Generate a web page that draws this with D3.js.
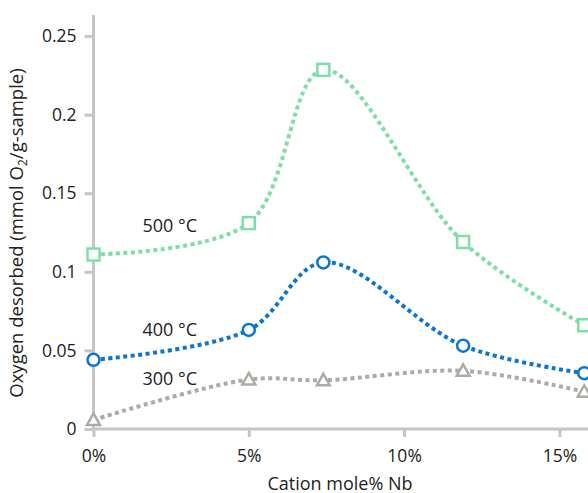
<!DOCTYPE html>
<html>
<head>
<meta charset="utf-8">
<script src="https://cdn.jsdelivr.net/npm/d3@7/dist/d3.min.js"></script>
<style>
  body { margin: 0; background: white; }
  svg { font-family: 'Open Sans', 'Noto Sans', sans-serif; }
</style>
</head>
<body>
<svg id="chart" width="588" height="493"></svg>
<script>
const nbPercent = [0, 5, 7.4, 11.9, 15.8];
const temp500 = [0.111, 0.131, 0.2285, 0.119, 0.066];
const temp400 = [0.044, 0.063, 0.106, 0.053, 0.0355];
const temp300 = [0.0058, 0.0315, 0.031, 0.037, 0.0237];
const yTicks = [0, 0.05, 0.1, 0.15, 0.2, 0.25];
const xTicks = [0, 5, 10, 15, 20];

const series = [
    { name: '500 °C', values: temp500, color: '#7ddfa8', marker: 'square', labelY: 0.1255 },
    { name: '400 °C', values: temp400, color: '#0b76cf', marker: 'circle', labelY: 0.0593 },
    { name: '300 °C', values: temp300, color: '#acaca6', marker: 'triangle', labelY: 0.028 }
];

const svg = d3.select('#chart'),
    axisColor = '#c6c6c6',
    textColor = '#222';

const x = d3.scaleLinear().domain([0, 20]).range([93.5, 93.5 + 621.2]);
const y = d3.scaleLinear().domain([0, 0.2634]).range([429, 15]);

// axes
const yAxis = svg.append('g')
    .attr('transform', 'translate(' + x(0) + ',0)')
    .call(d3.axisLeft(y).tickValues(yTicks).tickSize(9).tickPadding(8)
        .tickFormat(d => d === 0 ? '0' : String(+d.toFixed(2))));

const xAxis = svg.append('g')
    .attr('transform', 'translate(0,' + y(0) + ')')
    .call(d3.axisBottom(x).tickValues(xTicks).tickSize(8).tickPadding(13)
        .tickFormat(d => d + '%'));

[yAxis, xAxis].forEach(a => {
    a.attr('font-size', 17.5).attr('font-family', "'Open Sans', sans-serif");
    a.select('.domain').attr('stroke', axisColor).attr('stroke-width', 3);
    a.selectAll('.tick line').attr('stroke', axisColor).attr('stroke-width', 3);
    a.selectAll('.tick text').attr('fill', textColor);
});
xAxis.select('.domain').attr('d', 'M' + x(0) + ',0H' + x(20));
yAxis.select('.domain').attr('d', 'M0,' + y(0) + 'V' + y(0.2634));

// axis titles
svg.append('text')
    .attr('x', 340)
    .attr('y', 490)
    .attr('text-anchor', 'middle')
    .attr('font-size', 18)
    .attr('fill', textColor)
    .text('Cation mole% Nb');

const yTitle = svg.append('text')
    .attr('transform', 'translate(23,233) rotate(-90)')
    .attr('text-anchor', 'middle')
    .attr('font-size', 18.5)
    .attr('fill', textColor);
yTitle.append('tspan').text('Oxygen desorbed (mmol O');
yTitle.append('tspan').attr('font-size', 12).attr('dy', 4).text('2');
yTitle.append('tspan').attr('dy', -4).text('/g-sample)');

const line = d3.line()
    .x((d, i) => x(nbPercent[i]))
    .y(d => y(d))
    .curve(d3.curveCatmullRom.alpha(0.5));

const lines = svg.append('g');
series.forEach(s => {
    lines.append('path')
        .attr('d', line(s.values))
        .attr('fill', 'none')
        .attr('stroke', s.color)
        .attr('stroke-width', 4)
        .attr('stroke-dasharray', '4 3.5');
});

series.forEach(s => {
    const g = svg.append('g');
    s.values.forEach((v, i) => {
        const cx = x(nbPercent[i]), cy = y(v);
        if (s.marker === 'square') {
            g.append('rect')
                .attr('x', cx - 6).attr('y', cy - 6)
                .attr('width', 12).attr('height', 12);
        } else if (s.marker === 'circle') {
            g.append('circle').attr('cx', cx).attr('cy', cy).attr('r', 6);
        } else {
            g.append('path')
                .attr('d', 'M' + cx + ',' + (cy - 6.5) + 'L' + (cx + 6.5) + ',' + (cy + 5) + 'L' + (cx - 6.5) + ',' + (cy + 5) + 'Z');
        }
    });
    g.selectAll('*')
        .attr('fill', 'white')
        .attr('stroke', s.color)
        .attr('stroke-width', 2.5);

    svg.append('text')
        .attr('x', 197)
        .attr('y', y(s.labelY))
        .attr('text-anchor', 'end')
        .attr('font-size', 18)
        .attr('fill', textColor)
        .text(s.name);
});
</script>
</body>
</html>
